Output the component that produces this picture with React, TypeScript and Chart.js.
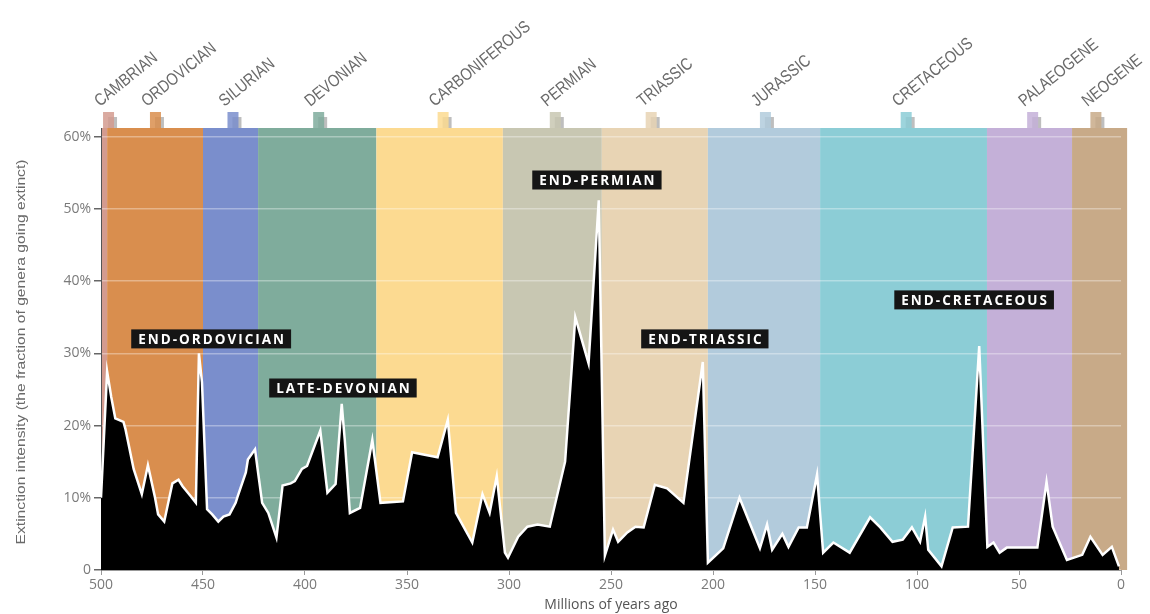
import React, { useEffect, useRef } from 'react';
import { Chart, registerables } from 'chart.js';

Chart.register(...registerables);

// ---- Data ----
const ages = [
  500, 497, 495, 493, 489, 488, 484, 480, 477, 473.5, 472, 469, 465, 462, 460, 456, 453.5, 452, 450.5, 448,
  445.5, 442.5, 440, 437, 434, 433, 429, 428, 424.5, 423, 421, 418, 414, 411, 407, 405, 401.5, 399, 392.5, 389,
  385, 382, 380.5, 378, 373, 367, 363, 352, 347.5, 342, 335, 330, 326, 318, 313, 309.5, 306, 302, 300.5, 295.5,
  291, 286, 280, 272.5, 267.5, 261, 256, 253, 249, 246.5, 242, 238, 234, 228.5, 222.5, 214.5, 205, 202.5, 195, 187,
  177, 173.5, 171, 166, 163, 158, 154, 149, 146, 141, 133, 123, 118, 112, 107, 102.5, 98.5, 96, 94.5, 88,
  82.5, 75, 69.5, 65.5, 62.5, 59.5, 56, 41, 36.5, 33.5, 26.5, 19, 15, 9, 4.5, 1,
];
const intensity = [
  10, 27.5, 24, 21, 20.5, 19.5, 14, 10.5, 14.5, 10, 7.7, 6.7, 12, 12.5, 11.6, 10.2, 9.3, 30, 26, 8.4,
  7.7, 6.7, 7.4, 7.7, 9.3, 10.2, 13.5, 15.3, 16.7, 13.5, 9.3, 7.9, 4.5, 11.7, 12, 12.3, 14, 14.4, 19.3, 10.7,
  11.9, 23, 18, 7.9, 8.6, 18, 9.3, 9.5, 16.3, 16, 15.6, 20.8, 7.9, 3.8, 10.5, 7.9, 13, 2.4, 1.7, 4.6,
  6, 6.3, 6, 15, 35, 28.6, 51.2, 2, 5.6, 3.9, 5.2, 6, 5.9, 11.8, 11.3, 9.3, 28.8, 1, 3, 10,
  3, 6.3, 2.8, 5, 3.2, 5.9, 5.9, 13.2, 2.4, 3.8, 2.4, 7.3, 5.9, 3.9, 4.2, 5.9, 3.9, 7.4, 2.8, 0.5,
  5.9, 6, 31, 3.2, 3.8, 2.4, 3.1, 3.1, 12.2, 6, 1.4, 2.1, 4.6, 2.1, 3.2, 0.5,
];

const periodNames = [
  'CAMBRIAN', 'ORDOVICIAN', 'SILURIAN', 'DEVONIAN', 'CARBONIFEROUS', 'PERMIAN',
  'TRIASSIC', 'JURASSIC', 'CRETACEOUS', 'PALAEOGENE', 'NEOGENE',
];
const periodStarts = [500, 497, 450, 423, 365, 303, 254.5, 202.5, 147.5, 65.7, 24];
const periodEnds = [497, 450, 423, 365, 303, 254.5, 202.5, 147.5, 65.7, 24, -3];
const periodColors = [
  '#d39b8f', '#d98e4e', '#7a8ecc', '#7fac9c', '#fcda91', '#c8c7b2',
  '#e8d4b4', '#b2cbdc', '#8ccdd6', '#c4b0d8', '#c8aa88',
];
const periodTabAges = [499, 476, 438, 396, 335, 280, 233, 177, 108, 46, 15];

const eventLabels = ['END-ORDOVICIAN', 'LATE-DEVONIAN', 'END-PERMIAN', 'END-TRIASSIC', 'END-CRETACEOUS'];
const eventAges = [446, 381.4, 256.9, 204, 72];
const eventLevels = [32, 25.2, 54, 32, 37.4];

const xTicks = [500, 450, 400, 350, 300, 250, 200, 150, 100, 50, 0];
const yTicks = [0, 10, 20, 30, 40, 50, 60];
const yTitle = 'Extinction intensity (the fraction of genera going extinct)';
const xTitle = 'Millions of years ago';

const bandsPlugin = {
  id: 'bands',
  beforeDraw(chart: any) {
    const { ctx, chartArea, scales } = chart;
    const x = scales.x;
    ctx.save();
    for (let i = 0; i < periodNames.length; i++) {
      const x0 = x.getPixelForValue(periodStarts[i]);
      const x1 = x.getPixelForValue(periodEnds[i]);
      ctx.fillStyle = periodColors[i];
      ctx.fillRect(x0, chartArea.top, x1 - x0, chartArea.bottom - chartArea.top);
    }
    ctx.restore();
  },
};

const decorPlugin = {
  id: 'decor',
  afterDraw(chart: any) {
    const { ctx, chartArea, scales } = chart;
    const x = scales.x;
    const y = scales.y;
    ctx.save();
    // period tabs and labels
    for (let i = 0; i < periodNames.length; i++) {
      const tx = x.getPixelForValue(periodTabAges[i]);
      ctx.fillStyle = 'rgba(110,110,110,0.45)';
      ctx.fillRect(tx + 5, chartArea.top - 11, 9, 11);
      ctx.fillStyle = periodColors[i];
      ctx.globalAlpha = 0.85;
      ctx.fillRect(tx, chartArea.top - 16, 11, 16);
      ctx.globalAlpha = 1;
      ctx.save();
      ctx.translate(tx - 3, chartArea.top - 21);
      ctx.rotate((-39 * Math.PI) / 180);
      ctx.scale(0.84, 1);
      ctx.font = '17px "Liberation Sans", "Open Sans", sans-serif';
      ctx.fillStyle = '#6a6a6a';
      ctx.textAlign = 'left';
      ctx.textBaseline = 'alphabetic';
      ctx.fillText(periodNames[i], 0, 0);
      ctx.restore();
    }
    // y title (condensed)
    ctx.save();
    ctx.font = '13px "Liberation Sans", "Open Sans", sans-serif';
    const w = ctx.measureText(yTitle).width;
    const target = 385;
    ctx.translate(21, (chartArea.top + chartArea.bottom) / 2 + 3);
    ctx.rotate(-Math.PI / 2);
    ctx.scale(target / w, 1);
    ctx.fillStyle = '#6a6a6a';
    ctx.textAlign = 'center';
    ctx.textBaseline = 'middle';
    ctx.fillText(yTitle, 0, 0);
    ctx.restore();
    // event labels
    for (let i = 0; i < eventLabels.length; i++) {
      const cx = x.getPixelForValue(eventAges[i]);
      const cy = y.getPixelForValue(eventLevels[i]);
      ctx.save();
      ctx.font = 'bold 13.5px "Open Sans", "DejaVu Sans", sans-serif';
      (ctx as any).letterSpacing = '2px';
      const tw = ctx.measureText(eventLabels[i]).width;
      const bw = tw + 12;
      const bh = 19;
      ctx.fillStyle = '#151515';
      ctx.fillRect(cx - bw / 2, cy - bh / 2, bw, bh);
      ctx.fillStyle = '#ffffff';
      ctx.textAlign = 'center';
      ctx.textBaseline = 'middle';
      ctx.fillText(eventLabels[i], cx + 1, cy + 1);
      ctx.restore();
    }
    ctx.restore();
  },
};

export default function App() {
  const ref = useRef<HTMLCanvasElement>(null);
  useEffect(() => {
    document.body.style.margin = '0';
    const canvas = ref.current!;
    const chart = new Chart(canvas, {
      type: 'line',
      data: {
        datasets: [
          {
            data: ages.map((a, i) => ({ x: a, y: intensity[i] })),
            borderColor: '#ffffff',
            borderWidth: 2.5,
            backgroundColor: '#000000',
            fill: 'origin',
            pointRadius: 0,
            tension: 0,
            borderJoinStyle: 'miter',
          } as any,
        ],
      },
      options: {
        responsive: false,
        animation: false,
        devicePixelRatio: 1,
        layout: { padding: { top: 128, right: 29, bottom: 0, left: 0 } },
        plugins: { legend: { display: false }, tooltip: { enabled: false } },
        scales: {
          x: {
            type: 'linear',
            reverse: true,
            min: 0,
            max: 500,
            afterBuildTicks: (s: any) => {
              s.ticks = xTicks.map((v) => ({ value: v }));
            },
            ticks: {
              color: '#7a7a7a',
              font: { family: '"Open Sans", sans-serif', size: 14 },
              padding: 2,
              maxRotation: 0,
              autoSkip: false,
            },
            grid: { drawOnChartArea: false, tickLength: 5, color: '#999' },
            border: { color: '#999' },
            title: {
              display: true,
              text: xTitle,
              color: '#555',
              font: { family: '"Open Sans", sans-serif', size: 14 },
              padding: { top: 0, bottom: 1 },
            },
            afterFit: (s: any) => {
              s.height = 44;
            },
          },
          y: {
            min: 0,
            max: 61.2,
            ticks: {
              color: '#7a7a7a',
              font: { family: '"Open Sans", sans-serif', size: 14 },
              padding: 3,
              callback: (v: any) => (v === 0 ? '0' : v + '%'),
            },
            afterBuildTicks: (s: any) => {
              s.ticks = yTicks.map((v) => ({ value: v }));
            },
            grid: { color: 'rgba(255,255,255,0.35)', lineWidth: 1.5, tickLength: 7, tickColor: '#666' },
            border: { color: '#555' },
            afterFit: (s: any) => {
              s.width = 101;
            },
          },
        },
      } as any,
      plugins: [bandsPlugin, decorPlugin],
    });
    return () => chart.destroy();
  }, []);
  return (
    <div style={{ width: 1150, height: 614, background: '#fff' }}>
      <canvas ref={ref} width={1150} height={614} style={{ display: 'block' }} />
    </div>
  );
}
